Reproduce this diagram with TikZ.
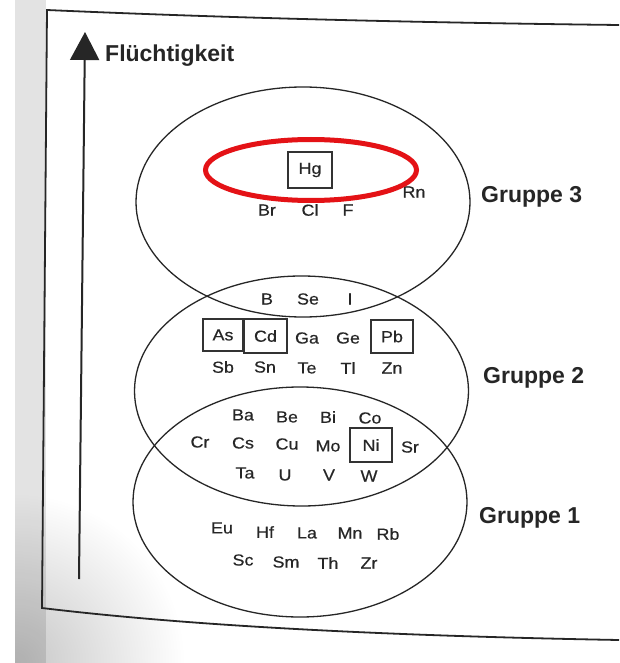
\documentclass[tikz,border=0pt]{standalone}
\usepackage{fontspec}
\setmainfont{Liberation Sans}
\newfontfamily\elfont[FakeStretch=1.12,FakeBold=0.4]{Liberation Sans}
\usetikzlibrary{shapes.geometric,arrows.meta}
\definecolor{markred}{RGB}{228,18,22}
\begin{document}
\begin{tikzpicture}[x=1pt,y=-1pt,
  el/.style={font=\elfont\fontsize{16}{18}\selectfont, inner sep=0pt, text=black!85},
  elbox/.style={el, draw=black!80, line width=1.3pt, minimum width=42pt, minimum height=34pt},
  grp/.style={ellipse, draw=black!85, line width=1.3pt, minimum width=334pt, minimum height=230pt, inner sep=0pt},
  lbl/.style={font=\bfseries\fontsize{23}{26}\selectfont, inner sep=0pt, text=black!85},
  frame/.style={draw=black!85, line width=1.8pt, line join=miter}]
\useasboundingbox (0,0) rectangle (619,663);
\fill[white] (0,0) rectangle (619,663);
% scan shadow on the left
\begin{scope}
  \clip (15,0) rectangle (619,663);
  \shade[inner color=gray!45, outer color=white] (15,663) circle[radius=170pt];
  \fill[black, opacity=0.11] (15,0) rectangle (46,663);
\end{scope}
% frame of the page figure
\path[frame] (619,25) .. controls (450,23) and (250,19) .. (47,10) -- (42,608) .. controls (200,627) and (400,636) .. (619,640);
% volatility axis
\coordinate (abot) at (79,579);
\coordinate (atop) at (85,32);
\draw[black!85, line width=2pt, -{Triangle[width=29pt,length=28pt]}] (abot) -- (atop);
\node[lbl, anchor=base west] (flt) at (105,62) {Flüchtigkeit};
% groups
\node[grp] (g3) at (303,202) {};
\node[grp] (g2) at (301.5,391) {};
\node[grp] (g1) at (300,502) {};
\node[lbl, anchor=west] (l3) at (481,197) {Gruppe 3};
\node[lbl, anchor=west] (l2) at (483,378) {Gruppe 2};
\node[lbl, anchor=west] (l1) at (479,518) {Gruppe 1};
% group 3
\node[elbox, minimum width=44pt, minimum height=36pt] (Hg) at (310,170) {Hg};
\node[el] (Rn) at (414,192) {Rn};
\node[el] (Br) at (267,210) {Br};
\node[el] (Cl) at (310,210) {Cl};
\node[el] (F) at (348,210) {F};
% group 3 / group 2
\node[el] (B) at (267,299) {B};
\node[el] (Se) at (308,299) {Se};
\node[el] (I) at (350,299) {I};
% group 2
\node[elbox, minimum width=40pt, minimum height=32pt] (As) at (223,335) {As};
\node[elbox, minimum width=43pt, minimum height=34pt] (Cd) at (265.5,336) {Cd};
\node[el] (Ga) at (307,338) {Ga};
\node[el] (Ge) at (348,338) {Ge};
\node[elbox, minimum width=42pt, minimum height=33pt] (Pb) at (392,336.5) {Pb};
\node[el] (Sb) at (223,367) {Sb};
\node[el] (Sn) at (265,367) {Sn};
\node[el] (Te) at (307,368) {Te};
\node[el] (Tl) at (348,368) {Tl};
\node[el] (Zn) at (392,368) {Zn};
% group 2 / group 1
\node[el] (Ba) at (243,415) {Ba};
\node[el] (Be) at (287,417) {Be};
\node[el] (Bi) at (328,417) {Bi};
\node[el] (Co) at (370,418) {Co};
\node[el] (Cr) at (200,442) {Cr};
\node[el] (Cs) at (243,443) {Cs};
\node[el] (Cu) at (287,444) {Cu};
\node[el] (Mo) at (328,446) {Mo};
\node[elbox, minimum width=42pt, minimum height=34pt] (Ni) at (371,445) {Ni};
\node[el] (Sr) at (410,447) {Sr};
\node[el] (Ta) at (245,473) {Ta};
\node[el] (U) at (285,475) {U};
\node[el] (V) at (329,475) {V};
\node[el] (W) at (369,476) {W};
% group 1
\node[el] (Eu) at (222,528) {Eu};
\node[el] (Hf) at (265,532) {Hf};
\node[el] (La) at (307,533) {La};
\node[el] (Mn) at (350,533) {Mn};
\node[el] (Rb) at (388,534) {Rb};
\node[el] (Sc) at (243,560) {Sc};
\node[el] (Sm) at (286,562) {Sm};
\node[el] (Th) at (328,563) {Th};
\node[el] (Zr) at (369,563) {Zr};
% red highlight
\node[ellipse, draw=markred, line width=5pt, minimum width=211pt, minimum height=61pt, inner sep=0pt] (mark) at (311,170) {};
\end{tikzpicture}
\end{document}
